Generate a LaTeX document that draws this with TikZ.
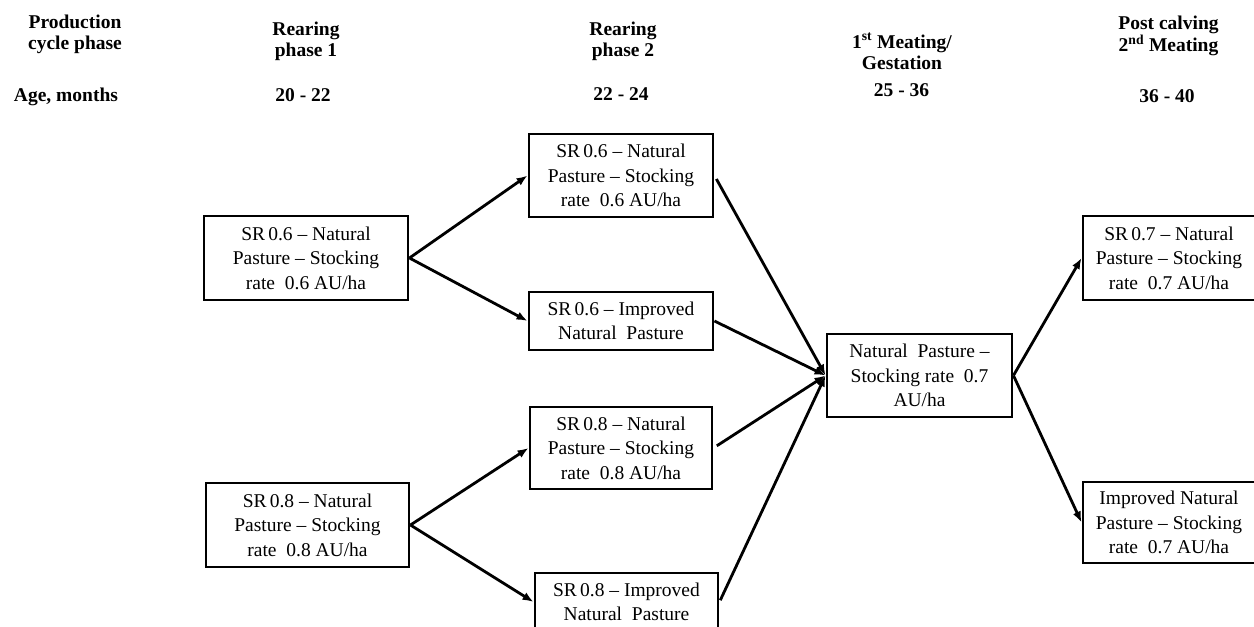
\documentclass[tikz,border=0pt]{standalone}
\usepackage{fontspec}
\setmainfont{Liberation Serif}
\usetikzlibrary{arrows.meta}
\begin{document}
\begin{tikzpicture}[x=1pt,y=-1pt,
  hdr/.style={font=\fontsize{19.5}{21}\selectfont\bfseries, align=center, inner sep=0pt},
  box/.style={draw, line width=2.9pt, align=center, inner sep=2pt,
    font=\fontsize{19.5}{24.5}\selectfont},
  conn/.style={line width=2.8pt, -{Latex[length=11pt,width=8.5pt]}}]
\clip (0,0) rectangle (1254,627);
\fill[white] (0,0) rectangle (1254,627);
% headers
\node[hdr, anchor=north] (hprod) at (75,14.5) {Production\\cycle phase};
\node[hdr, anchor=base] (hage) at (66,101) {Age, months};
\node[hdr, anchor=north] (hr1) at (306,22) {Rearing\\phase 1};
\node[hdr, anchor=base] (ar1) at (303,101) {20 - 22};
\node[hdr, anchor=north] (hr2) at (623,21.5) {Rearing\\phase 2};
\node[hdr, anchor=base] (ar2) at (621,100.5) {22 - 24};
\node[hdr, anchor=north] (hmg) at (902,33) {1\textsuperscript{st} Meating/\\Gestation};
\node[hdr, anchor=base] (amg) at (901.5,96) {25 - 36};
\node[hdr, anchor=north] (hpc) at (1168.5,15.5) {Post calving\\2\textsuperscript{nd} Meating};
\node[hdr, anchor=base] (apc) at (1167,102.5) {36 - 40};
% boxes
\node[box, minimum width=204pt, minimum height=84pt] (A) at (306,258)
  {SR\,0.6 -- Natural\\Pasture -- Stocking\\rate\ \ 0.6 AU/ha};
\node[box, minimum width=184pt, minimum height=83pt] (B) at (621,175.5)
  {SR\,0.6 -- Natural\\Pasture -- Stocking\\rate\ \ 0.6 AU/ha};
\node[box, minimum width=184pt, minimum height=58pt] (C) at (621,321)
  {SR\,0.6 -- Improved\\Natural\ \ Pasture};
\node[box, minimum width=182pt, minimum height=82pt] (D) at (621,448)
  {SR\,0.8 -- Natural\\Pasture -- Stocking\\rate\ \ 0.8 AU/ha};
\node[box, minimum width=203pt, minimum height=84pt] (E) at (307.5,525)
  {SR\,0.8 -- Natural\\Pasture -- Stocking\\rate\ \ 0.8 AU/ha};
\node[box, minimum width=183pt, minimum height=58pt] (F) at (626.5,602)
  {SR\,0.8 -- Improved\\Natural\ \ Pasture};
\node[box, minimum width=185pt, minimum height=83pt] (G) at (919.5,375.5)
  {Natural\ \ Pasture --\\Stocking rate\ \ 0.7\\AU/ha};
\node[box, minimum width=172pt, minimum height=84pt] (H) at (1169,258)
  {SR\,0.7 -- Natural\\Pasture -- Stocking\\rate\ \ 0.7 AU/ha};
\node[box, minimum width=172pt, minimum height=81pt] (I) at (1169,522.5)
  {Improved Natural\\Pasture -- Stocking\\rate\ \ 0.7 AU/ha};
% connectors
\draw[conn] (A.east) -- (B.west);
\draw[conn] (A.east) -- (C.west);
\draw[conn] (E.east) -- (D.west);
\draw[conn] (E.east) -- (F.west);
\draw[conn, shorten <=4pt] (B.east) -- (G.west);
\draw[conn] (C.east) -- (G.west);
\draw[conn, shorten <=4pt] (D.east) -- (G.west);
\draw[conn, shorten <=2pt] (F.east) -- (G.west);
\draw[conn] (G.east) -- (H.west);
\draw[conn] (G.east) -- (I.west);
\end{tikzpicture}
\end{document}
